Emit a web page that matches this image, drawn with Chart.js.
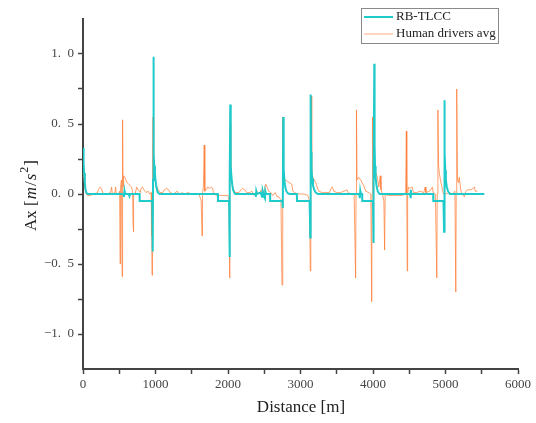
<!DOCTYPE html>
<html>
<head>
<meta charset="utf-8">
<script src="https://cdn.jsdelivr.net/npm/chart.js@4"></script>
<style>
  body { margin: 0; background: #fff; }
  #wrap { width: 536px; height: 423px; }
</style>
</head>
<body>
<div id="wrap"><canvas id="chart1" width="536" height="423"></canvas></div>
<script>
// RB-TLCC acceleration profile
const rbDist = [0, 8, 15, 25, 35, 50, 70, 300, 560, 565, 572, 578, 630, 640, 650, 780, 782, 955, 960, 963, 966, 970, 974, 978, 984, 992, 1000, 1012, 1025, 1040, 1060,
  1860, 1862, 2015, 2020, 2024, 2027, 2031, 2035, 2040, 2048, 2058, 2070, 2085, 2100,
  2380, 2385, 2390, 2400, 2450, 2470, 2480, 2495, 2510, 2515, 2525, 2580, 2582, 2750, 2755, 2758, 2762, 2766, 2770, 2778, 2790, 2805, 2825, 2850,
  2950, 2952, 3125, 3130, 3134, 3138, 3142, 3146, 3152, 3160, 3172, 3190, 3210, 3240,
  3810, 3818, 3824, 3830, 3850, 3852, 4000, 4004, 4008, 4012, 4018, 4022, 4028, 4036, 4048, 4065, 4090,
  4512, 4518, 4524, 4530, 4830, 4832, 4972, 4976, 4980, 4983, 4987, 4991, 4997, 5005, 5018, 5035, 5060, 5535];
const rbAx = [0.33, 0.22, 0.15, 0.08, 0.03, 0.005, 0, 0, 0, -0.02, 0.02, 0, 0, -0.015, 0, 0, -0.05, -0.05, -0.2, -0.41, 0.1, 0.98, 0.45, 0.28, 0.2, 0.15, 0.1, 0.05, 0.02, 0.005, 0,
  0, -0.05, -0.05, -0.2, -0.45, 0.1, 0.64, 0.3, 0.2, 0.12, 0.07, 0.03, 0.01, 0,
  0, -0.02, 0.02, 0, 0.01, -0.02, 0.02, -0.01, -0.03, 0.02, 0, 0, -0.05, -0.05, -0.1, -0.03, 0.55, 0.3, 0.18, 0.1, 0.05, 0.02, 0.005, 0,
  0, -0.05, -0.05, -0.15, -0.31, 0.1, 0.71, 0.3, 0.18, 0.11, 0.06, 0.03, 0.01, 0,
  0, -0.03, 0.02, 0, 0, -0.05, -0.05, -0.2, -0.35, 0.1, 0.93, 0.35, 0.2, 0.12, 0.06, 0.02, 0,
  0, -0.03, 0.03, 0, 0, -0.05, -0.05, -0.15, -0.27, 0.1, 0.67, 0.3, 0.17, 0.1, 0.05, 0.02, 0, 0];

// human drivers average
const humanDist = [0, 10, 20, 30, 45, 60, 100, 150, 200, 220, 240, 260, 280, 330, 380, 395, 405, 440, 450, 458, 490, 505, 512, 518, 530, 540, 546, 552, 560, 575, 590, 610, 630, 650, 670, 685, 690, 695, 700,
  720, 740, 760, 790, 800, 820, 840, 870, 900, 920, 940, 948, 952, 956, 962, 966, 970, 978, 990, 1000, 1020, 1040, 1060,
  1100, 1120, 1150, 1180, 1200, 1250, 1300, 1330, 1370, 1400, 1450, 1500, 1550, 1600, 1630, 1642, 1648, 1660, 1672, 1680, 1700, 1720, 1750, 1770, 1790, 1800,
  1850, 1900, 1950, 2000, 2015, 2022, 2027, 2032, 2038, 2045, 2060, 2080, 2100, 2150, 2180, 2200, 2230, 2260, 2300, 2330, 2360, 2400, 2430, 2460, 2480, 2500, 2520, 2540, 2560, 2590,
  2620, 2650, 2680, 2700, 2730, 2745, 2752, 2758, 2765, 2775, 2790, 2820, 2850, 2880, 2895, 2920, 2960, 3000, 3050, 3100, 3125, 3135, 3142, 3148, 3155, 3170, 3190, 3210, 3230, 3250,
  3300, 3400, 3420, 3440, 3460, 3500, 3550, 3600, 3640, 3660, 3700, 3740, 3760, 3766, 3772, 3780, 3800, 3830, 3860, 3880, 3900, 3940, 3970, 3982, 3988, 3994, 4005, 4020, 4040, 4060, 4080, 4100, 4110, 4130,
  4150, 4160, 4168, 4200, 4300, 4400, 4450, 4460, 4466, 4472, 4478, 4490, 4510, 4540, 4560, 4600, 4650, 4700, 4720, 4730, 4780, 4820, 4830, 4860, 4880, 4886, 4895, 4905, 4915, 4930, 4950, 4970,
  5000, 5050, 5100, 5130, 5142, 5148, 5155, 5165, 5180, 5190, 5210, 5230, 5260, 5280, 5300, 5350, 5380, 5400, 5410, 5440];
const humanAx = [0.18, 0.12, 0.08, 0.03, 0, -0.01, -0.01, 0, 0.01, 0.04, 0.05, 0.03, 0, 0, 0.01, 0.05, 0, 0.01, 0.05, 0, 0, 0.02, -0.5, 0.05, 0.1, -0.59, 0.53, 0.05, 0.13, 0.12, 0.1, 0.08, 0.07, 0.06, 0.05, 0.02, -0.2, -0.27, 0,
  0, 0.05, 0.03, 0.01, 0.04, 0.05, 0.03, 0.01, 0.02, 0, 0.01, -0.3, -0.58, 0, 0.3, 0.55, 0.2, 0.15, 0.12, 0.08, 0.05, 0.03, 0.01,
  0.01, 0.03, 0.04, 0.03, 0.01, 0, 0.02, 0, 0.01, 0, 0.01, 0, 0, 0, -0.05, -0.3, 0, 0.05, 0.35, 0.02, 0.03, 0.05, 0.04, 0.05, 0.04, 0,
  -0.01, -0.01, -0.01, -0.01, -0.05, -0.6, 0.1, 0.5, 0.15, 0.12, 0.06, 0.03, 0.01, 0.01, 0.03, 0.04, 0.03, 0.01, 0.01, 0.02, -0.01, 0.02, 0, 0.03, 0, 0.02, 0.07, 0.05, 0.02, 0.01,
  -0.01, 0.01, -0.02, -0.02, -0.04, -0.65, 0.1, 0.55, 0.15, 0.12, 0.1, 0.09, 0.08, 0.07, 0.02, 0.01, 0, 0, 0, -0.01, -0.05, -0.55, 0, 0.7, 0.15, 0.12, 0.1, 0.08, 0.05, 0.02,
  0.01, 0.01, 0.04, 0.05, 0.02, 0.01, 0.01, 0.02, 0.03, 0.01, 0, 0, -0.6, 0, 0.6, 0.1, 0.12, 0.1, 0.07, 0.05, 0.02, 0.01, 0, -0.77, 0, 0.55, 0.15, 0.12, 0.15, 0.12, 0.05, 0.13, 0.03, 0,
  -0.05, -0.4, 0, -0.01, -0.01, -0.01, 0, 0.45, 0, -0.55, 0, 0.05, 0.04, 0.05, 0.01, 0.01, 0.02, 0.01, 0.05, 0.01, 0.02, 0.05, 0.01, 0, -0.6, 0, 0.6, 0.2, 0.15, 0.1, 0.05, 0,
  0, 0.01, 0, 0.02, -0.7, 0, 0.75, 0.1, 0.08, 0.12, 0.03, 0, -0.02, 0.02, 0.03, 0.03, 0.04, 0.05, 0.02, 0.02];

const xTicks = [0, 1000, 2000, 3000, 4000, 5000, 6000];
const yTicks = [-1.0, -0.5, 0.0, 0.5, 1.0];

const cyan = '#1fcaca';
const orange = 'rgba(255, 120, 45, 0.7)';
const serif = "'Liberation Serif', 'DejaVu Serif', serif";

function pts(xs, ys) {
  return xs.map((x, i) => ({ x: x, y: ys[i] }));
}

function fmt(v) {
  // the source renders "1. 0" with a wide point
  const s = Math.abs(v).toFixed(1).replace('.', '.\u2002');
  return (v < 0 ? '\u2212' : '') + s;
}

const extras = {
  id: 'extras',
  afterDraw(chart) {
    const ctx = chart.ctx;
    ctx.save();
    ctx.fillStyle = '#222';
    ctx.textBaseline = 'alphabetic';

    // x title
    ctx.font = '17px ' + serif;
    ctx.textAlign = 'center';
    ctx.fillText('Distance [m]', 301, 412);

    // y title, rotated, with math italic part
    ctx.translate(36, 195);
    ctx.rotate(-Math.PI / 2);
    const parts = [
      ['Ax [', '17px ' + serif, 0],
      ['m', 'italic 17px ' + serif, 0],
      ['/', '17px ' + serif, 0],
      ['s', 'italic 17px ' + serif, 0],
      ['2', '12px ' + serif, -8],
      [']', '17px ' + serif, 0]
    ];
    let total = 0;
    parts.forEach(p => { ctx.font = p[1]; total += ctx.measureText(p[0]).width + 1; });
    let x = -total / 2;
    ctx.textAlign = 'left';
    parts.forEach(p => {
      ctx.font = p[1];
      ctx.fillText(p[0], x, p[2]);
      x += ctx.measureText(p[0]).width + 1;
    });
    ctx.restore();

    // legend box
    ctx.save();
    ctx.strokeStyle = '#8a8a8a';
    ctx.lineWidth = 1;
    ctx.fillStyle = '#fff';
    ctx.fillRect(361.5, 8.5, 137, 35);
    ctx.strokeRect(361.5, 8.5, 137, 35);
    ctx.lineWidth = 2;
    ctx.strokeStyle = cyan;
    ctx.beginPath(); ctx.moveTo(364, 17); ctx.lineTo(393, 17); ctx.stroke();
    ctx.lineWidth = 1;
    ctx.strokeStyle = 'rgba(255, 150, 90, 0.8)';
    ctx.beginPath(); ctx.moveTo(364, 34); ctx.lineTo(393, 34); ctx.stroke();
    ctx.fillStyle = '#222';
    ctx.font = '13px ' + serif;
    ctx.textAlign = 'left';
    ctx.textBaseline = 'middle';
    ctx.fillText('RB-TLCC', 396, 17);
    ctx.fillText('Human drivers avg', 396, 34);
    ctx.restore();
  }
};

new Chart(document.getElementById('chart1'), {
  type: 'line',
  data: {
    datasets: [{
      label: 'RB-TLCC',
      data: pts(rbDist, rbAx),
      borderColor: cyan,
      borderWidth: 2,
      pointRadius: 0,
      tension: 0
    }, {
      label: 'Human drivers avg',
      data: pts(humanDist, humanAx),
      borderColor: orange,
      borderWidth: 1,
      pointRadius: 0,
      tension: 0
    }]
  },
  options: {
    responsive: false,
    animation: false,
    layout: { padding: { top: 19, right: 18, left: 0, bottom: 0 } },
    plugins: { legend: { display: false }, tooltip: { enabled: false } },
    scales: {
      x: {
        type: 'linear',
        min: 0,
        max: 6000,
        afterBuildTicks: s => { s.ticks = [0, 500, 1000, 1500, 2000, 2500, 3000, 3500, 4000, 4500, 5000, 5500, 6000].map(v => ({ value: v })); },
        afterFit: s => { s.height = 54; },
        grid: { drawOnChartArea: false, tickLength: 5, tickColor: '#444', tickWidth: 1.5 },
        border: { color: '#444', width: 2 },
        ticks: {
          autoSkip: false,
          maxRotation: 0,
          padding: 3,
          color: '#444',
          font: { family: serif, size: 13 },
          callback: v => xTicks.includes(v) ? String(v) : ''
        }
      },
      y: {
        type: 'linear',
        min: -1.25,
        max: 1.25,
        afterBuildTicks: s => { s.ticks = [-1.0, -0.75, -0.5, -0.25, 0, 0.25, 0.5, 0.75, 1.0].map(v => ({ value: v })); },
        afterFit: s => { s.width = 83; },
        grid: { drawOnChartArea: false, tickLength: 5, tickColor: '#444', tickWidth: 1.5 },
        border: { color: '#444', width: 2 },
        ticks: {
          autoSkip: false,
          padding: 4,
          color: '#444',
          font: { family: serif, size: 13 },
          callback: v => yTicks.some(t => Math.abs(t - v) < 1e-9) ? fmt(v) : ''
        }
      }
    }
  },
  plugins: [extras]
});
</script>
</body>
</html>
